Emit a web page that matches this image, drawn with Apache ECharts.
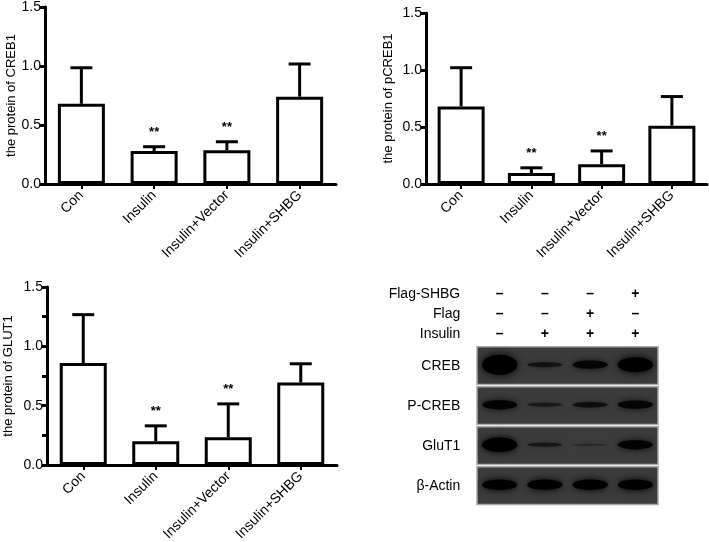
<!DOCTYPE html>
<html><head><meta charset="utf-8">
<script src="https://cdn.jsdelivr.net/npm/echarts@6/dist/echarts.min.js"></script>
<style>html,body{margin:0;padding:0;background:#fff}#c{width:709px;height:542px}</style>
</head><body><div id="c"></div>
<script>
// ---- data ----
const categories = ['Con', 'Insulin', 'Insulin+Vector', 'Insulin+SHBG'];
const yTicks = [0, 0.5, 1.0, 1.5];

const creb1Mean = [0.68, 0.28, 0.285, 0.74];
const creb1SD   = [0.305, 0.036, 0.073, 0.277];
const creb1Sig  = ['', '**', '**', ''];

const pcreb1Mean = [0.68, 0.096, 0.174, 0.512];
const pcreb1SD   = [0.34, 0.046, 0.116, 0.255];
const pcreb1Sig  = ['', '**', '**', ''];

const glut1Mean = [0.86, 0.20, 0.234, 0.695];
const glut1SD   = [0.407, 0.13, 0.281, 0.158];
const glut1Sig  = ['', '**', '**', ''];

// western blot panel
const headerLabels = ['Flag-SHBG', 'Flag', 'Insulin'];
const flagShbgSigns = ['–', '–', '–', '+'];
const flagSigns     = ['–', '–', '+', '–'];
const insulinSigns  = ['–', '+', '+', '+'];
const blotRows = ['CREB', 'P-CREB', 'GluT1', 'β-Actin'];
// relative band intensity per lane (0..1)
const crebBand  = [1.0, 0.3, 0.5, 0.8];
const pcrebBand = [0.55, 0.22, 0.35, 0.5];
const glut1Band = [0.78, 0.25, 0.06, 0.55];
const actinBand = [0.6, 0.6, 0.6, 0.6];

// ---- chart ----
const FONT = '"Liberation Sans", Arial, sans-serif';
const chart = echarts.init(document.getElementById('c'));

function yAxisCfg(gi, name, gap, minor) {
  return {
    type: 'value', gridIndex: gi, min: 0, max: 1.5, interval: 0.5,
    name: name, nameLocation: 'middle', nameGap: gap,
    nameTextStyle: {fontSize: 13, color: '#000', fontFamily: FONT},
    axisLine: {show: true, lineStyle: {color: '#000', width: 3}},
    axisTick: {show: true, length: 5, lineStyle: {color: '#000', width: 3}},
    minorTick: {show: !!minor, splitNumber: 2, length: 5, lineStyle: {color: '#000', width: 3}},
    axisLabel: {fontSize: 14, color: '#000', margin: 4, fontFamily: FONT,
      formatter: v => yTicks.indexOf(v) >= 0 ? v.toFixed(1) : ''},
    splitLine: {show: false}
  };
}
function xAxisCfg(gi) {
  return {
    type: 'category', gridIndex: gi, data: categories,
    axisLine: {show: true, lineStyle: {color: '#000', width: 3}},
    axisTick: {show: true, alignWithLabel: true, length: 5, lineStyle: {color: '#000', width: 2}},
    axisLabel: {rotate: 45, fontSize: 14, color: '#000', margin: 9, fontFamily: FONT, interval: 0}
  };
}
function barSeries(gi, mean) {
  return {
    type: 'bar', xAxisIndex: gi, yAxisIndex: gi, data: mean, barWidth: 47,
    itemStyle: {color: '#fff', borderColor: '#000', borderWidth: 3},
    emphasis: {disabled: true}, silent: true, z: 2
  };
}
function errSeries(gi, mean, sd, sig) {
  return {
    type: 'custom', xAxisIndex: gi, yAxisIndex: gi, z: 3, silent: true,
    data: mean.map((m, i) => [i, m, sd[i]]),
    renderItem: function (params, api) {
      const i = api.value(0), m = api.value(1), s = api.value(2);
      const p0 = api.coord([i, m]);
      const p1 = api.coord([i, m + s]);
      const half = 11;
      const ch = [
        {type: 'line', shape: {x1: p0[0], y1: p0[1], x2: p1[0], y2: p1[1]}, style: {stroke: '#000', lineWidth: 3}},
        {type: 'line', shape: {x1: p1[0] - half, y1: p1[1], x2: p1[0] + half, y2: p1[1]}, style: {stroke: '#000', lineWidth: 3}}
      ];
      const st = sig[params.dataIndex];
      if (st) {
        ch.push({type: 'text', style: {text: st, x: p1[0], y: p1[1] - 8, align: 'center', verticalAlign: 'bottom',
          fontSize: 13, fontWeight: 'bold', fill: '#000', fontFamily: FONT}});
      }
      return {type: 'group', children: ch};
    }
  };
}

// blot
const bandRows = [crebBand, pcrebBand, glut1Band, actinBand];
const bandData = [];
bandRows.forEach((row, r) => row.forEach((v, l) => bandData.push([l, r, v])));
const signRows = [flagShbgSigns, flagSigns, insulinSigns];

const option = {
  backgroundColor: '#fff',
  animation: false,
  grid: [
    {left: 45, top: 7, width: 291, height: 177, containLabel: false, outerBoundsMode: 'none'},
    {left: 426, top: 13, width: 281, height: 171, containLabel: false, outerBoundsMode: 'none'},
    {left: 47, top: 287, width: 290, height: 178, containLabel: false, outerBoundsMode: 'none'},
    {left: 477, top: 266, width: 181, height: 240, containLabel: false, outerBoundsMode: 'none'}
  ],
  xAxis: [xAxisCfg(0), xAxisCfg(1), xAxisCfg(2),
    {type: 'value', gridIndex: 3, min: 0, max: 4, show: false}],
  yAxis: [yAxisCfg(0, 'the protein of CREB1', 27), yAxisCfg(1, 'the protein of pCREB1', 31),
    yAxisCfg(2, 'the protein of GLUT1', 32, true),
    {type: 'value', gridIndex: 3, min: -2, max: 4, inverse: true, show: false}],
  series: [
    barSeries(0, creb1Mean), errSeries(0, creb1Mean, creb1SD, creb1Sig),
    barSeries(1, pcreb1Mean), errSeries(1, pcreb1Mean, pcreb1SD, pcreb1Sig),
    barSeries(2, glut1Mean), errSeries(2, glut1Mean, glut1SD, glut1Sig),
    // blot boxes
    {
      type: 'custom', xAxisIndex: 3, yAxisIndex: 3, z: 1, silent: true,
      data: blotRows.map((n, r) => [r]),
      renderItem: function (params, api) {
        const r = api.value(0);
        const a = api.coord([0, r + 0.02]), b = api.coord([4, r + 0.96]);
        return {type: 'rect', shape: {x: a[0], y: a[1], width: b[0] - a[0], height: b[1] - a[1]},
          style: {fill: '#3b3b3b', stroke: '#a8a8a8', lineWidth: 1.5}};
      }
    },
    // bands
    {
      type: 'custom', xAxisIndex: 3, yAxisIndex: 3, z: 2, silent: true, clip: true,
      data: bandData,
      renderItem: function (params, api) {
        const l = api.value(0), r = api.value(1), v = api.value(2);
        const c = api.coord([l + 0.5, r + 0.47]);
        const sz = api.size([1, 1]);
        const w = sz[0] * 0.78, h = 2 + 18 * Math.pow(v, 1.5);
        const op = Math.min(1, 0.25 + 1.2 * v);
        return {type: 'ellipse', shape: {cx: c[0], cy: c[1], rx: w / 2, ry: h / 2},
          style: {fill: 'rgba(0,0,0,' + op + ')', shadowBlur: 4 + 5 * v, shadowColor: 'rgba(0,0,0,' + op + ')'}};
      }
    },
    // blot texts
    {
      type: 'custom', xAxisIndex: 3, yAxisIndex: 3, z: 3, silent: true, clip: false,
      data: [[0]],
      renderItem: function (params, api) {
        const ch = [];
        const ts = {fontSize: 14, fill: '#000', fontFamily: FONT};
        headerLabels.forEach((t, k) => {
          const y = -1.3 + 0.5 * k;
          const p = api.coord([-0.37, y]);
          ch.push({type: 'text', style: Object.assign({text: t, x: p[0], y: p[1], align: 'right', verticalAlign: 'middle'}, ts)});
          signRows[k].forEach((s, l) => {
            const q = api.coord([l + 0.5, y]);
            ch.push({type: 'text', style: Object.assign({}, ts, {text: s, x: q[0], y: q[1], align: 'center', verticalAlign: 'middle', fontWeight: 'bold'})});
          });
        });
        blotRows.forEach((t, r) => {
          const p = api.coord([-0.37, r + 0.5]);
          ch.push({type: 'text', style: Object.assign({text: t, x: p[0], y: p[1], align: 'right', verticalAlign: 'middle'}, ts)});
        });
        return {type: 'group', children: ch};
      }
    }
  ]
};
chart.setOption(option);
</script>
</body></html>
